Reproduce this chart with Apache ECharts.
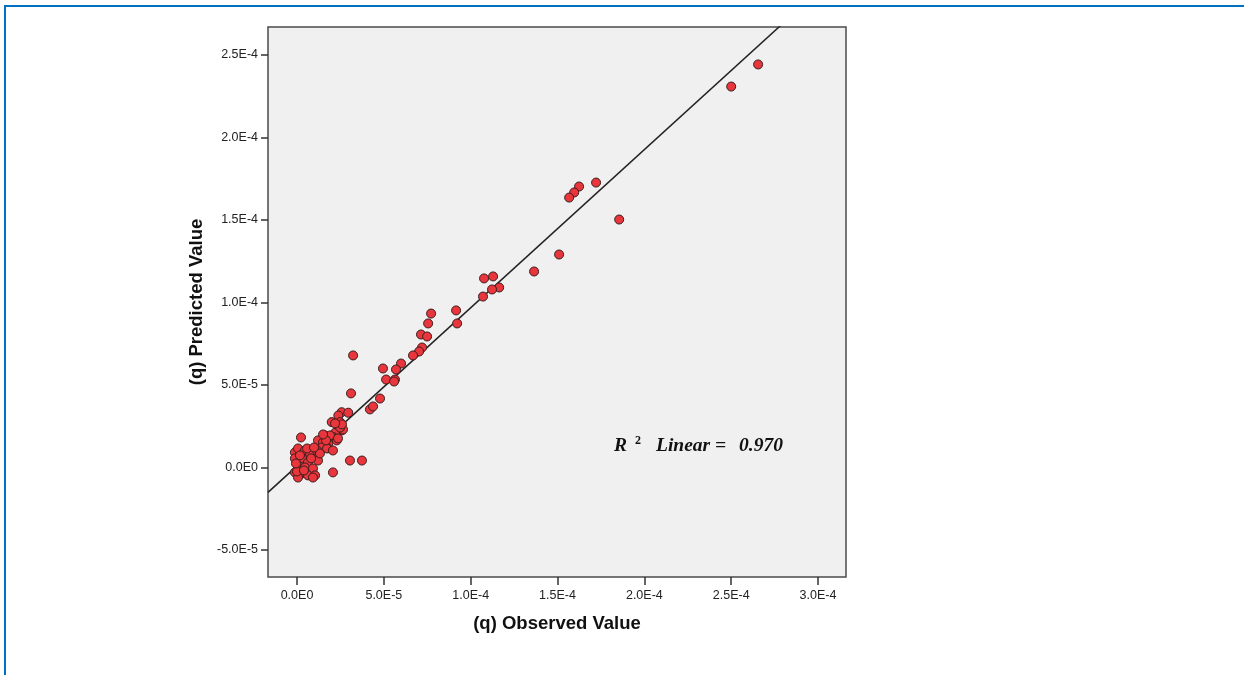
<!DOCTYPE html>
<html>
<head>
<meta charset="utf-8">
<script src="https://cdn.jsdelivr.net/npm/echarts@6/dist/echarts.min.js"></script>
<style>
html,body{margin:0;padding:0;background:#fff;}
#chart{width:1244px;height:675px;}
</style>
</head>
<body>
<div id="chart"></div>
<script>
// Observed (x) and predicted (y) values
const observed = [
  265.5e-6, 250.0e-6, 172.2e-6, 162.4e-6, 159.6e-6, 156.7e-6, 185.5e-6, 150.9e-6, 136.5e-6, 107.7e-6,
  112.9e-6, 116.4e-6, 112.3e-6, 107.1e-6, 77.2e-6, 91.6e-6, 75.5e-6, 92.2e-6, 71.4e-6, 74.9e-6,
  72.0e-6, 70.3e-6, 66.8e-6, 32.3e-6, 59.9e-6, 49.5e-6, 57.0e-6, 51.3e-6, 56.4e-6, 55.9e-6,
  31.1e-6, 47.8e-6, 42.0e-6, 43.8e-6, 25.7e-6, 29.5e-6, 23.8e-6, 20.0e-6, 24.8e-6, 25.7e-6,
  21.9e-6, 16.1e-6, 20.9e-6, 14.2e-6, 18.0e-6, 22.9e-6, 26.5e-6, 24.8e-6, 25.9e-6, 21.9e-6,
  2.3e-6, -1.2e-6, 0.6e-6, 4.6e-6, 7.5e-6, 11.5e-6, 12.1e-6, -1.2e-6, 2.9e-6, 6.3e-6,
  0.6e-6, 4.6e-6, 9.2e-6, -1.2e-6, 2.9e-6, 6.3e-6, 10.4e-6, 0.6e-6, 20.7e-6, 12.1e-6,
  15.0e-6, 17.3e-6, 14.4e-6, 19.0e-6, 23.6e-6, 5.8e-6, 11.5e-6, 17.3e-6, 20.7e-6, 30.5e-6,
  37.4e-6, 9.2e-6, 0.0e-6, 1.7e-6, 8.1e-6, -0.6e-6, 4.0e-6, 13.2e-6, 16.7e-6, 9.8e-6,
  15.0e-6
];
const predicted = [
  244.3e-6, 230.9e-6, 172.7e-6, 170.3e-6, 166.7e-6, 163.6e-6, 150.3e-6, 129.1e-6, 118.8e-6, 114.6e-6,
  115.8e-6, 109.1e-6, 107.9e-6, 103.6e-6, 93.3e-6, 95.2e-6, 87.3e-6, 87.3e-6, 80.6e-6, 79.4e-6,
  72.7e-6, 70.3e-6, 67.9e-6, 67.9e-6, 63.0e-6, 60.0e-6, 59.4e-6, 53.3e-6, 53.3e-6, 52.1e-6,
  44.9e-6, 41.8e-6, 35.2e-6, 37.0e-6, 33.5e-6, 33.2e-6, 31.5e-6, 27.5e-6, 27.5e-6, 22.4e-6,
  21.0e-6, 19.4e-6, 18.4e-6, 15.3e-6, 14.4e-6, 16.4e-6, 23.0e-6, 24.2e-6, 26.1e-6, 26.7e-6,
  18.2e-6, 9.1e-6, 11.5e-6, 10.3e-6, 8.5e-6, 6.1e-6, 4.2e-6, 5.5e-6, 5.5e-6, 3.0e-6,
  1.2e-6, 0.0e-6, -0.6e-6, -3.0e-6, -3.6e-6, -4.8e-6, -4.8e-6, -6.1e-6, -3.0e-6, 16.4e-6,
  15.2e-6, 12.1e-6, 12.1e-6, 19.4e-6, 17.6e-6, 11.5e-6, 10.3e-6, 11.5e-6, 10.3e-6, 4.2e-6,
  4.2e-6, -6.1e-6, -2.4e-6, 7.3e-6, 5.5e-6, 2.4e-6, -1.8e-6, 8.5e-6, 16.4e-6, 12.1e-6,
  20.0e-6
];
// Regression line: endpoints of the drawn fit line
const fitX = [-16.7e-6, 316.1e-6];
const fitY = [-15.1e-6, 304.0e-6];
// Tick values
const xTicks = [0, 5e-5, 1e-4, 1.5e-4, 2e-4, 2.5e-4, 3e-4];
const yTicks = [-5e-5, 0, 5e-5, 1e-4, 1.5e-4, 2e-4, 2.5e-4];
const xRange = [-16.7e-6, 316.1e-6];
const yRange = [-66.4e-6, 267.0e-6];
const r2Text = '0.970';

function fmt(v) {
  if (Math.abs(v) < 1e-12) return '0.0E0';
  const e = Math.floor(Math.log10(Math.abs(v)) + 1e-9);
  const m = v / Math.pow(10, e);
  return m.toFixed(1) + 'E' + e;
}

const points = observed.map((x, i) => [x, predicted[i]]);
const fitLine = fitX.map((x, i) => [x, fitY[i]]);

const chart = echarts.init(document.getElementById('chart'), null, {renderer: 'canvas'});
const labelFont = {fontFamily: 'Liberation Sans, Arial, sans-serif', fontSize: 12.5, color: '#222'};
const nameFont = {fontFamily: 'Liberation Sans, Arial, sans-serif', fontWeight: 'bold', fontSize: 18.5, color: '#111'};
const serif = 'Liberation Serif, Times New Roman, serif';
chart.setOption({
  animation: false,
  backgroundColor: '#fff',
  grid: {
    left: 268, right: 398, top: 27, bottom: 98,
    show: true, backgroundColor: '#f0f0f0', borderColor: '#4a4a4a', borderWidth: 1.5
  },
  xAxis: {
    type: 'value', min: xRange[0], max: xRange[1],
    name: '(q) Observed Value', nameLocation: 'middle', nameGap: 37,
    nameTextStyle: nameFont,
    axisLine: {show: false, onZero: false},
    splitLine: {show: false},
    axisTick: {show: true, customValues: xTicks, length: 8, lineStyle: {color: '#333', width: 1.5}},
    axisLabel: Object.assign({customValues: xTicks, formatter: fmt, margin: 12}, labelFont)
  },
  yAxis: {
    type: 'value', min: yRange[0], max: yRange[1],
    name: '(q) Predicted Value', nameLocation: 'middle', nameGap: 62,
    nameTextStyle: nameFont,
    axisLine: {show: false, onZero: false},
    splitLine: {show: false},
    axisTick: {show: true, customValues: yTicks, length: 7, lineStyle: {color: '#333', width: 1.5}},
    axisLabel: Object.assign({customValues: yTicks, formatter: fmt, margin: 10}, labelFont)
  },
  series: [
    {
      type: 'line', data: fitLine, symbol: 'none', clip: true, silent: true,
      lineStyle: {color: '#222', width: 1.5}, z: 1
    },
    {
      type: 'scatter', data: points, symbolSize: 9,
      itemStyle: {color: '#e8363c', borderColor: '#3a1c1c', borderWidth: 1, opacity: 1}, z: 2
    }
  ],
  graphic: [
    {type: 'rect', shape: {x: 4, y: 5, width: 1240, height: 2}, style: {fill: '#0070c0'}},
    {type: 'rect', shape: {x: 4, y: 5, width: 2, height: 670}, style: {fill: '#0070c0'}},
    {type: 'text', x: 614, y: 446, z: 10,
      style: {text: 'R', font: 'italic bold 19.5px ' + serif, fill: '#111', verticalAlign: 'middle'}},
    {type: 'text', x: 635, y: 441, z: 10,
      style: {text: '2', font: 'bold 12px ' + serif, fill: '#111', verticalAlign: 'middle'}},
    {type: 'text', x: 656, y: 446, z: 10,
      style: {text: 'Linear =', font: 'italic bold 19.5px ' + serif, fill: '#111', verticalAlign: 'middle'}},
    {type: 'text', x: 739, y: 446, z: 10,
      style: {text: r2Text, font: 'italic bold 19.5px ' + serif, fill: '#111', verticalAlign: 'middle'}}
  ]
});
</script>
</body>
</html>
